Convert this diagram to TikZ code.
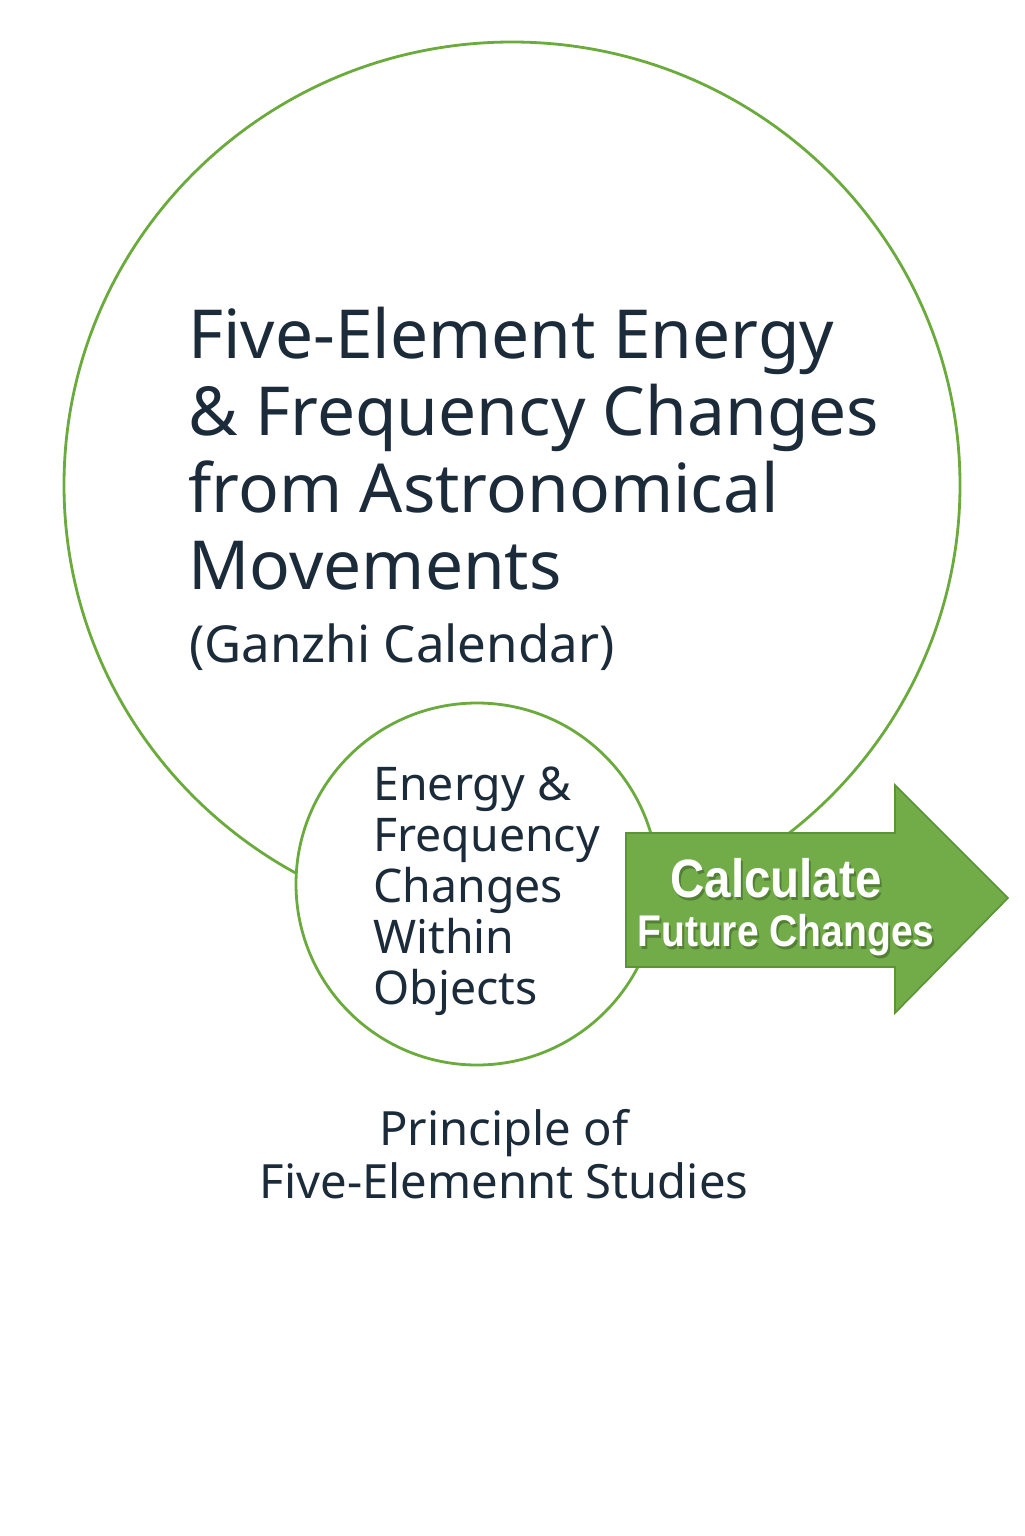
\documentclass[tikz,border=0pt]{standalone}
\usepackage{fontspec}
\setmainfont{Noto Sans}
\newfontfamily\arrowfont{Liberation Sans}[FakeStretch=0.88]
\definecolor{navy}{HTML}{1C2B3A}
\definecolor{lgreen}{HTML}{6BAA3C}
\definecolor{afill}{HTML}{71AC48}
\definecolor{aedge}{HTML}{5A9436}
\tikzset{
  ring/.style={draw=lgreen, line width=1.4pt},
  dark/.style={text=navy, inner sep=0pt},
  light/.style={text=white, inner sep=0pt},
  shade/.style={text=black, opacity=0.25, inner sep=0pt}
}
\begin{document}
\begin{tikzpicture}[x=0.5pt,y=-0.5pt]
\useasboundingbox (0,0) rectangle (1024,1536);
\fill[white] (0,0) rectangle (1024,1536);
% big ring
\draw[ring] (512,485) ellipse [x radius=448, y radius=443];
% title (anchor = baseline of last line)
\node[dark, anchor=base west, align=left, font=\fontsize{33.8}{38.5}\selectfont] (title) at (188,589)
  {Five-Element Energy\\ \& Frequency Changes\\ from Astronomical\\ Movements};
\node[dark, anchor=base west, font=\fontsize{25.5}{30}\selectfont] (ganzhi) at (189,662) {(Ganzhi Calendar)};
% small circle
\node[ring, circle, fill=white, minimum size=362pt*0.5, inner sep=0pt] (inner) at (477,884) {};
\node[dark, anchor=base west, align=left, font=\fontsize{23.2}{25.5}\selectfont] (innertext) at (373,1004)
  {Energy \&\\ Frequency\\ Changes\\ Within\\ Objects};
% arrow
\coordinate (a1) at (626,833);
\coordinate (a2) at (895,833);
\coordinate (a3) at (895,785);
\coordinate (a4) at (1008,898);
\coordinate (a5) at (895,1013);
\coordinate (a6) at (895,967);
\coordinate (a7) at (626,967);
\draw[fill=afill, draw=aedge, line width=0.8pt, line join=miter] (a1) -- (a2) -- (a3) -- (a4) -- (a5) -- (a6) -- (a7) -- cycle;
\node[shade, anchor=base, font=\arrowfont\bfseries\fontsize{27}{30}\selectfont] (calcS) at (778,900) {Calculate};
\node[shade, anchor=base, font=\arrowfont\bfseries\fontsize{22.2}{25}\selectfont] (futS) at (788,949) {Future Changes};
\node[light, anchor=base, font=\arrowfont\bfseries\fontsize{27}{30}\selectfont] (calc) at (776,897) {Calculate};
\node[light, anchor=base, font=\arrowfont\bfseries\fontsize{22.2}{25}\selectfont] (fut) at (786,946) {Future Changes};
% bottom caption (anchor = baseline of last line)
\node[dark, anchor=base, align=center, font=\fontsize{23.6}{26.5}\selectfont] (caption) at (504,1198)
  {Principle of\\ Five-Elemennt Studies};
\end{tikzpicture}
\end{document}
